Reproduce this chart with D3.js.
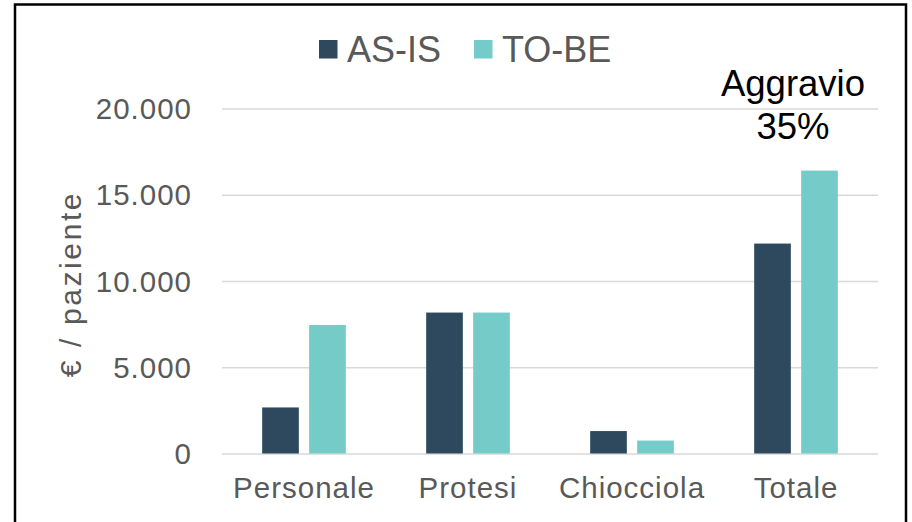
<!DOCTYPE html>
<html>
<head>
<meta charset="utf-8">
<script src="https://cdn.jsdelivr.net/npm/d3@7"></script>
<style>
  html, body { margin: 0; padding: 0; background: #fff; }
  svg { display: block; font-family: Arial, "Liberation Sans", sans-serif; }
</style>
</head>
<body>
<svg id="chart" width="912" height="522"></svg>
<script>
// Cost per patient, current vs. planned scenario
const categories = ["Personale", "Protesi", "Chiocciola", "Totale"];
const seriesNames = ["AS-IS", "TO-BE"];
const asIs = [2670, 8170, 1300, 12170];
const toBe = [7450, 8170, 750, 16400];
const yTicks = [0, 5000, 10000, 15000, 20000];
const tickLabels = ["0", "5.000", "10.000", "15.000", "20.000"];
const yTitle = "€ / paziente";
const noteLines = ["Aggravio", "35%"];

const colors = { "AS-IS": "#2E495D", "TO-BE": "#74CBC8" };
const textGray = "#595959";

const rows = categories.map((c, i) => ({ category: c, "AS-IS": asIs[i], "TO-BE": toBe[i] }));

const svg = d3.select("#chart");

// outer frame
svg.append("rect")
  .attr("x", 15).attr("y", 4.5)
  .attr("width", 891).attr("height", 540)
  .attr("fill", "none").attr("stroke", "#000").attr("stroke-width", 2.5);

const x0 = d3.scaleBand().domain(categories).range([222, 878])
  .paddingInner(0.49).paddingOuter(0.245);
const x1 = d3.scaleBand().domain(seriesNames).range([0, x0.bandwidth()])
  .paddingInner(0.22).paddingOuter(0);
const y = d3.scaleLinear().domain([0, 20000]).range([453.5, 108.5]);

// gridlines
const yAxis = d3.axisLeft(y).tickValues(yTicks)
  .tickSize(-(878 - 222))
  .tickFormat((d, i) => tickLabels[i])
  .tickPadding(30);
const gy = svg.append("g").attr("transform", "translate(222,0)").call(yAxis);
gy.select(".domain").remove();
gy.selectAll(".tick line").attr("stroke", "#D9D9D9").attr("stroke-width", 1.6);
gy.selectAll(".tick text")
  .attr("fill", textGray)
  .attr("font-size", 29.5)
  .attr("letter-spacing", 1)
  .attr("dy", "0.34em");

// bars
const groups = svg.append("g").selectAll("g")
  .data(rows).join("g")
  .attr("transform", d => `translate(${x0(d.category)},0)`);
groups.selectAll("rect")
  .data(d => seriesNames.map(k => ({ key: k, value: d[k] })))
  .join("rect")
  .attr("x", d => x1(d.key))
  .attr("width", x1.bandwidth())
  .attr("y", d => y(d.value))
  .attr("height", d => y(0) - y(d.value))
  .attr("fill", d => colors[d.key]);

// category axis
const xAxis = d3.axisBottom(x0).tickSize(0).tickPadding(24);
const gx = svg.append("g").attr("transform", `translate(0,${y(0)})`).call(xAxis);
gx.select(".domain").remove();
gx.selectAll(".tick text")
  .attr("fill", textGray)
  .attr("font-size", 29.5)
  .attr("letter-spacing", 1);

// y title
svg.append("text")
  .attr("transform", "translate(81,284) rotate(-90)")
  .attr("text-anchor", "middle")
  .attr("fill", textGray)
  .attr("font-size", 30)
  .attr("letter-spacing", 2.6)
  .attr("xml:space", "preserve")
  .text(yTitle);

// legend
const legendItems = [
  { key: "AS-IS", x: 319 },
  { key: "TO-BE", x: 474 }
];
const lg = svg.append("g");
lg.selectAll("rect").data(legendItems).join("rect")
  .attr("x", d => d.x).attr("y", 40)
  .attr("width", 18.5).attr("height", 18.5)
  .attr("fill", d => colors[d.key]);
lg.selectAll("text").data(legendItems).join("text")
  .attr("x", d => d.x + 28).attr("y", 61.5)
  .attr("fill", textGray)
  .attr("font-size", 36)
  .text(d => d.key);

// annotation above the total
const noteX = x0("Totale") + x0.bandwidth() / 2 - 3;
svg.append("text")
  .attr("x", noteX).attr("y", 96)
  .attr("text-anchor", "middle")
  .attr("font-size", 36.5)
  .attr("fill", "#000")
  .selectAll("tspan").data(noteLines).join("tspan")
  .attr("x", noteX)
  .attr("dy", (d, i) => i === 0 ? 0 : 43)
  .text(d => d);
</script>
</body>
</html>
